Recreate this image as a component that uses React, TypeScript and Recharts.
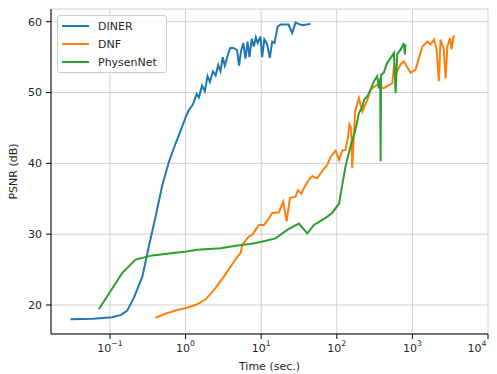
import React from "react";
import {
  LineChart,
  Line,
  XAxis,
  YAxis,
  CartesianGrid,
  Legend,
} from "recharts";

// values (time in seconds, log axis)
const dinerTime = [
  0.03, 0.06, 0.107, 0.14, 0.169, 0.207, 0.268, 0.327, 0.401, 0.492, 0.601, 0.737, 0.859, 1.0, 1.1,
  1.25, 1.4, 1.5, 1.65, 1.8, 1.95, 2.1, 2.3, 2.5, 2.7, 2.9, 3.1, 3.3, 3.6, 3.9, 4.2, 4.5, 4.8, 5.1,
  5.4, 5.8, 6.2, 6.6, 7.0, 7.5, 8.0, 8.5, 9.0, 9.8, 10.3, 11, 12, 13, 14, 15, 16.5, 18, 20, 23, 25.7,
  28.5, 31, 35, 40, 45,
];
const dinerPsnr = [
  18.0, 18.05, 18.26, 18.6, 19.2, 21.0, 24.0, 28.3, 32.5, 36.9, 40.2, 42.8, 44.6, 46.5, 47.5, 48.3,
  49.8, 49.3, 51.0, 50.2, 52.3, 51.5, 53.0, 52.4, 53.9, 53.0, 55.0, 53.8, 55.2, 56.3, 56.3, 56.2,
  56.0, 53.8, 55.8, 57.0, 54.8, 57.2, 55.0, 57.6, 56.5, 57.8, 57.0, 57.9, 55.0, 57.5, 56.8, 54.9,
  57.2, 57.0, 59.3, 59.6, 59.6, 59.6, 58.4, 59.9, 59.7, 59.5, 59.6, 59.7,
];

const dnfTime = [
  0.4, 0.55, 0.78, 1.05, 1.43, 1.84, 2.37, 3.21, 4.36, 4.83, 5.34, 5.63, 6.55, 7.1, 7.63, 8.42, 9.33,
  10.86, 12.3, 14.0, 17.2, 19.6, 21.7, 24.0, 28.5, 30.6, 34, 37.6, 42.8, 47.4, 54.9, 64.1, 74.8, 82.8,
  96.6, 107, 118.7, 130.6, 140, 147, 155, 160, 175, 196, 218, 254, 280, 343, 418, 463, 542, 570, 630,
  700, 770, 944, 1100, 1220, 1360, 1580, 1750, 1930, 2090, 2240, 2360, 2600, 2750, 2900, 3150, 3300,
  3500, 3640,
];
const dnfPsnr = [
  18.2, 18.8, 19.3, 19.6, 20.1, 20.8, 22.1, 24.0, 26.1, 26.8, 27.3, 28.5, 29.4, 29.8, 29.9, 30.6,
  31.3, 31.3, 32.0, 33.0, 33.1, 34.6, 31.8, 35.1, 35.3, 36.2, 35.7, 36.7, 37.7, 38.2, 37.9, 38.9,
  39.8, 40.9, 41.8, 40.5, 41.8, 41.9, 43.6, 45.5, 45.0, 39.3, 47.3, 49.2, 47.3, 49.0, 50.4, 51.1,
  50.6, 50.9, 51.3, 53.7, 53.0, 54.0, 54.4, 52.8, 53.2, 54.9, 56.5, 57.2, 56.8, 57.5, 56.1, 51.6,
  57.5, 56.1, 52.0, 56.5, 57.7, 56.1, 57.9, 57.9,
];

const physTime = [
  0.0713, 0.145, 0.218, 0.363, 0.95, 1.43, 2.9, 4.83, 7.1, 9.82, 15.5, 22.1, 31.5, 40.7, 49.9, 71.1,
  86.7, 107, 130.6, 152, 177, 196, 218, 230, 254, 280, 310, 343, 360, 375, 380, 385, 418, 463, 518,
  570, 600, 630, 700, 736, 770, 795, 810,
];
const physPsnr = [
  19.4, 24.5, 26.4, 27.0, 27.5, 27.8, 28.0, 28.4, 28.6, 28.9, 29.4, 30.6, 31.5, 30.1, 31.3, 32.3,
  33.0, 34.3, 39.6, 42.4, 44.8, 47.1, 48.0, 49.0, 49.5, 50.4, 51.6, 52.3, 50.6, 52.0, 40.3, 52.5,
  52.8, 54.2, 54.9, 55.6, 49.9, 55.4, 56.1, 56.5, 57.0, 55.4, 56.8,
];

const xTicks = [0.1, 1, 10, 100, 1000, 10000];
const yTicks = [20, 30, 40, 50, 60];
const xDomain = [0.0166, 10000];
const yDomain = [15.9, 61.8];

const zip = (t: number[], p: number[]) => t.map((v, i) => ({ t: v, psnr: p[i] }));

const FONT = "DejaVu Sans, sans-serif";
const TEXT = "#262626";

const LogTick = (props: any) => {
  const { x, y, payload } = props;
  const exp = Math.round(Math.log10(payload.value));
  return (
    <text x={x} y={y} dy={11} textAnchor="middle" fontSize={11} fill={TEXT} fontFamily={FONT}>
      10
      <tspan dy={-6} fontSize={7.7}>
        {exp < 0 ? `\u2212${-exp}` : `${exp}`}
      </tspan>
    </text>
  );
};

const LegendBox = (props: any) => {
  const items = props.payload || [];
  return (
    <div
      style={{
        background: "rgba(255,255,255,0.8)",
        border: "1px solid #cccccc",
        borderRadius: 3,
        padding: "1px 0",
        width: 108,
        fontFamily: FONT,
        fontSize: 11,
        color: TEXT,
      }}
    >
      {items.map((it: any) => (
        <div key={it.value} style={{ display: "flex", alignItems: "center", height: 18 }}>
          <svg width={36} height={4} style={{ marginLeft: 4 }}>
            <line x1={0} y1={2} x2={27} y2={2} stroke={it.color} strokeWidth={2} />
          </svg>
          <span>{it.value}</span>
        </div>
      ))}
    </div>
  );
};

export default function App() {
  return (
    <div style={{ position: "absolute", left: 0, top: 0, background: "#fff" }}>
      <LineChart width={497} height={374} margin={{ top: 9, right: 9, left: 0, bottom: 0 }}>
        <CartesianGrid stroke="#c4c4c4" strokeWidth={0.8} />
        <XAxis
          dataKey="t"
          type="number"
          scale="log"
          domain={xDomain}
          ticks={xTicks}
          allowDataOverflow
          height={40}
          tick={<LogTick />}
          tickSize={5}
          tickMargin={2}
          tickLine={{ stroke: "#000" }}
          axisLine={{ stroke: "#000" }}
          label={{
            value: "Time (sec.)",
            position: "insideBottom",
            offset: 4,
            fill: TEXT,
            fontSize: 11,
            fontFamily: FONT,
          }}
        />
        <XAxis
          xAxisId="top"
          orientation="top"
          type="number"
          scale="log"
          domain={xDomain}
          allowDataOverflow
          height={0}
          tick={false}
          tickLine={false}
          axisLine={{ stroke: "#000" }}
        />
        <YAxis
          type="number"
          domain={yDomain}
          ticks={yTicks}
          allowDataOverflow
          width={51}
          tickSize={5}
          tickMargin={4}
          tick={{ fill: TEXT, fontSize: 11, fontFamily: FONT }}
          tickLine={{ stroke: "#000" }}
          axisLine={{ stroke: "#000" }}
          label={{
            value: "PSNR (dB)",
            angle: -90,
            position: "insideLeft",
            offset: 13,
            style: { textAnchor: "middle" },
            fill: TEXT,
            fontSize: 11,
            fontFamily: FONT,
          }}
        />
        <YAxis
          yAxisId="right"
          orientation="right"
          type="number"
          domain={yDomain}
          allowDataOverflow
          width={0}
          tick={false}
          tickLine={false}
          axisLine={{ stroke: "#000" }}
        />
        <Legend
          layout="horizontal"
          verticalAlign="middle"
          align="center"
          content={<LegendBox />}
          wrapperStyle={{ left: 57, top: 15, width: "auto" }}
        />
        <Line
          name="DINER"
          data={zip(dinerTime, dinerPsnr)}
          dataKey="psnr"
          type="linear"
          stroke="#1f77b4"
          strokeWidth={2}
          dot={false}
          isAnimationActive={false}
        />
        <Line
          name="DNF"
          data={zip(dnfTime, dnfPsnr)}
          dataKey="psnr"
          type="linear"
          stroke="#ff7f0e"
          strokeWidth={2}
          dot={false}
          isAnimationActive={false}
        />
        <Line
          name="PhysenNet"
          data={zip(physTime, physPsnr)}
          dataKey="psnr"
          type="linear"
          stroke="#2ca02c"
          strokeWidth={2}
          dot={false}
          isAnimationActive={false}
        />
      </LineChart>
    </div>
  );
}
